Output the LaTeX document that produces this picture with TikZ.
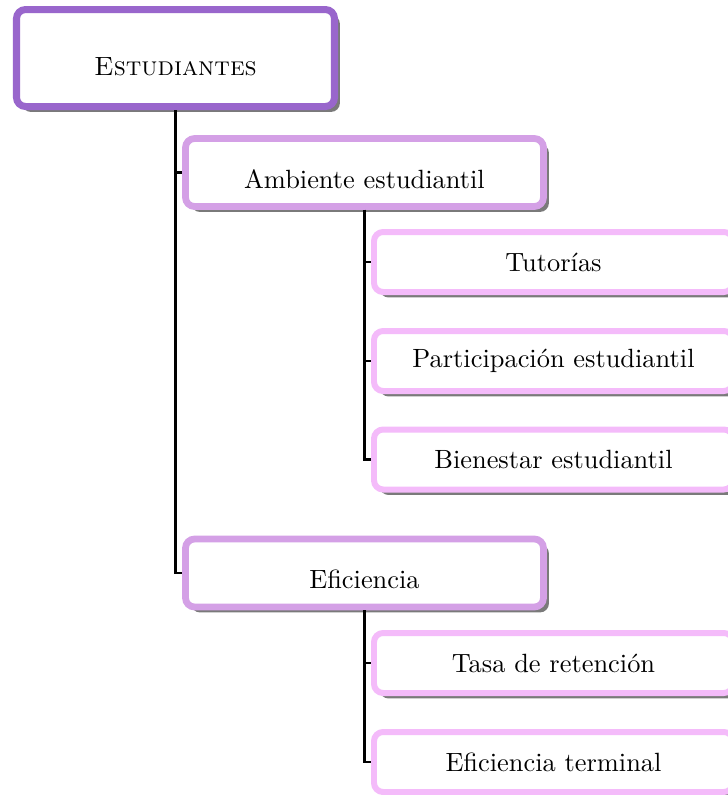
\documentclass[tikz,border=0pt]{standalone}
\usetikzlibrary{shadows}
\definecolor{rootc}{HTML}{9966CC}
\definecolor{lvla}{HTML}{D4A0E6}
\definecolor{lvlb}{HTML}{F4BBFA}
\newdimen\pxu
\pxu=0.384615pt
\begin{document}
\begin{tikzpicture}[x=0.384615pt, y=-0.384615pt,
  basebox/.style={rectangle, fill=white, rounded corners=3.5pt, inner sep=2pt,
    font=\fontsize{10.15pt}{12pt}\selectfont,
    drop shadow={shadow xshift=2.1pt, shadow yshift=-2.1pt, fill=black!52, opacity=1}},
  rootbox/.style={basebox, draw=rootc, line width=2.7pt, font=\fontsize{10.15pt}{12pt}\selectfont\scshape,
    minimum width=318\pxu, minimum height=97\pxu, text height=13.8pt, text depth=0pt},
  lvlabox/.style={basebox, draw=lvla, line width=2.6pt,
    minimum width=358\pxu, minimum height=68\pxu, text height=12pt, text depth=0pt},
  lvlbbox/.style={basebox, draw=lvlb, line width=2.3pt,
    minimum width=359\pxu, minimum height=60\pxu},
  conn/.style={draw=black, line width=0.8pt}]
\useasboundingbox (0,0) rectangle (728,795);
\node[rootbox] (root) at (175.5,58) {Estudiantes};
\node[lvlabox] (amb) at (364.5,172.5) {Ambiente estudiantil};
\node[lvlabox] (efi) at (364.5,573) {Eficiencia};
\node[lvlbbox] (tut) at (553.5,262) {Tutorías};
\node[lvlbbox] (par) at (553.5,361) {Participación estudiantil};
\node[lvlbbox] (bie) at (553.5,459.5) {Bienestar estudiantil};
\node[lvlbbox] (tas) at (553.5,663) {Tasa de retención};
\node[lvlbbox] (eft) at (553.5,762) {Eficiencia terminal};
\draw[conn] (root.south) |- (amb.west);
\draw[conn] (root.south) |- (efi.west);
\draw[conn] (amb.south) |- (tut.west);
\draw[conn] (amb.south) |- (par.west);
\draw[conn] (amb.south) |- (bie.west);
\draw[conn] (efi.south) |- (tas.west);
\draw[conn] (efi.south) |- (eft.west);
\end{tikzpicture}
\end{document}
